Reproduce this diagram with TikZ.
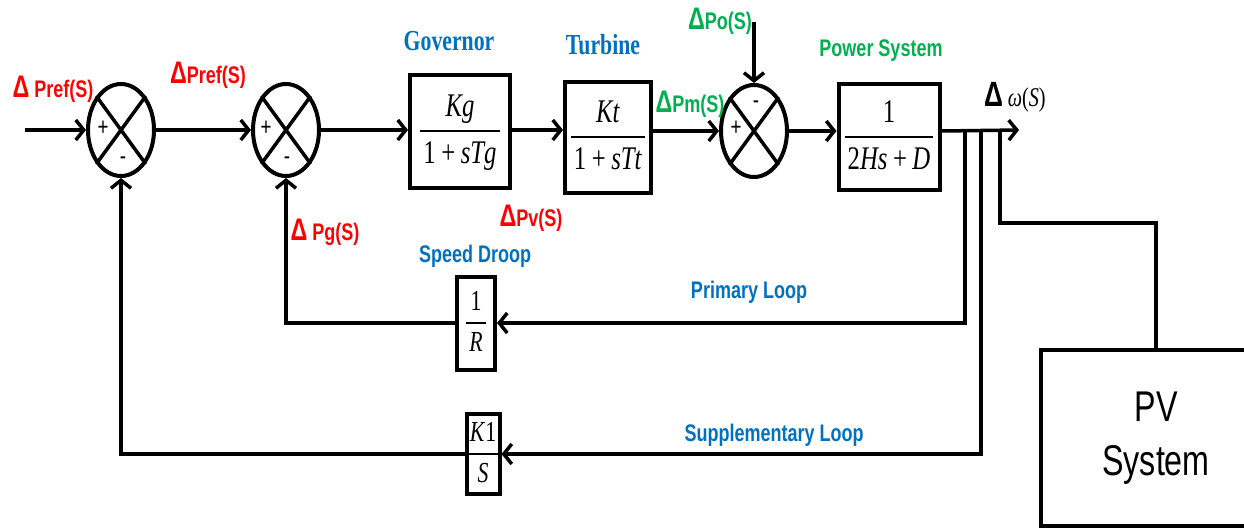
\documentclass[tikz,border=0pt]{standalone}
\usepackage{graphicx}
\usepackage{fontspec}
\setmainfont{Liberation Serif}[FakeStretch=0.75]
\setsansfont{Liberation Sans}[FakeStretch=0.75]
\usetikzlibrary{arrows.meta, shapes.geometric}
\definecolor{lblred}{RGB}{255,0,0}
\definecolor{lblgreen}{RGB}{0,176,80}
\definecolor{lblblue}{RGB}{0,112,192}
\setlength{\arrayrulewidth}{1.2pt}
\newcommand{\blkfrac}[2]{\renewcommand{\arraystretch}{1.2}%
  \begin{tabular}{@{\hspace{3pt}}c@{\hspace{3pt}}}#1\\\hline#2\end{tabular}}
\newcommand{\dlt}{{\sffamily\bfseries\scalebox{1.3}{Δ}}}

\begin{document}
\begin{tikzpicture}[x=1pt, y=-1pt,
  blk/.style={rectangle, draw, line width=4pt, inner sep=0pt,
    align=center, font=\fontsize{33}{38}\selectfont},
  smallblk/.style={blk, font=\fontsize{29}{33}\selectfont},
  sumj/.style={ellipse, draw, line width=4pt, minimum width=66pt,
    minimum height=92pt, inner sep=0pt},
  sgn/.style={font=\sffamily\fontsize{25}{25}\selectfont, inner sep=0pt},
  sig/.style={-{Straight Barb[length=8pt, width=20pt]}, line width=3.5pt},
  wire/.style={line width=3.5pt},
  redlbl/.style={text=lblred, font=\sffamily\bfseries\fontsize{24}{24}\selectfont, inner sep=0pt},
  greenlbl/.style={redlbl, text=lblgreen},
  bluehd/.style={text=lblblue, font=\bfseries\fontsize{29}{29}\selectfont, inner sep=0pt},
  bluelbl/.style={redlbl, text=lblblue}
]
  \useasboundingbox (0,0) rectangle (1244,531);

  % summing junctions
  \node[sumj] (s1) at (121,130) {};
  \node[sumj] (s2) at (286,130) {};
  \node[sumj] (s3) at (754,131) {};
  \foreach \s in {s1,s2,s3}{
    \draw[line width=3.5pt] (\s.north west) -- (\s.south east);
    \draw[line width=3.5pt] (\s.south west) -- (\s.north east);
  }
  \node[sgn] (s1p) at (103,128) {+};
  \node[sgn] (s1m) at (123,161) {-};
  \node[sgn] (s2p) at (266,128) {+};
  \node[sgn] (s2m) at (287,161) {-};
  \node[sgn] (s3m) at (756,105) {-};
  \node[sgn] (s3p) at (736,128) {+};

  % blocks
  \node[blk, minimum width=100pt, minimum height=113pt] (gov) at (460,131)
    {\blkfrac{\textit{Kg}}{1\,+\,\textit{sTg}}};
  \node[blk, minimum width=86pt, minimum height=111pt] (tur) at (608,137)
    {\blkfrac{\textit{Kt}}{1\,+\,\textit{sTt}}};
  \node[blk, minimum width=101pt, minimum height=106pt] (ps) at (889,137)
    {\blkfrac{1}{2\textit{Hs}\,+\,\textit{D}}};
  \node[smallblk, minimum width=38pt, minimum height=93pt] (sd) at (476,323)
    {\blkfrac{1}{\textit{R}}};
  \node[smallblk, minimum width=33pt, minimum height=79pt] (ki) at (483,454)
    {\blkfrac{\textit{K}1}{\textit{S}}};
  \node[rectangle, draw, line width=3.5pt, minimum width=230pt, minimum height=176pt,
    align=center, font=\sffamily\fontsize{43}{54}\selectfont] (pv) at (1156,438)
    {PV\\System};

  % forward path
  \coordinate (in) at (25,130);
  \coordinate (po) at (754,22);
  \coordinate (out) at (1019,130);
  \coordinate (b1) at (965,130);
  \coordinate (b2) at (981,130);
  \coordinate (b3) at (1000,130);
  \coordinate (pvk) at (1000,223);
  \draw[sig] (in) -- (s1.west);
  \draw[sig] (s1.east) -- (s2.west);
  \draw[sig] (s2.east) -- (s2.east -| gov.west);
  \draw[sig] (gov.east |- s2.east) -- (s2.east -| tur.west);
  \draw[sig] (tur.east |- s3.west) -- (s3.west);
  \draw[sig] (po) -- (s3.north);
  \draw[sig] (s3.east) -- (s3.east -| ps.west);
  \draw[sig] (ps.east |- s3.east) -- (out);

  % feedback loops
  \draw[sig] (b1) |- (sd.east);
  \draw[sig] (sd.west) -| (s2.south);
  \draw[sig] (b2) |- (ki.east);
  \draw[sig] (ki.west) -| (s1.south);
  \draw[wire] (b3) -- (pvk) -| (pv.north);

  % labels
  \node[redlbl] (pref1) at (53,89) {\dlt\ Pref(S)};
  \node[redlbl] (pref2) at (208,75) {\dlt Pref(S)};
  \node[redlbl] (pg) at (325,232) {\dlt\ Pg(S)};
  \node[redlbl] (pvs) at (531,218) {\dlt Pv(S)};
  \node[greenlbl] (pm) at (690,104) {\dlt Pm(S)};
  \node[greenlbl] (pol) at (720,21) {\dlt Po(S)};
  \node[greenlbl] (pslbl) at (881,51) {Power System};
  \node[bluehd] (govlbl) at (449,41) {Governor};
  \node[bluehd] (turlbl) at (603,45) {Turbine};
  \node[bluelbl] (sdlbl) at (475,256) {Speed Droop};
  \node[bluelbl] (prim) at (749,292) {Primary Loop};
  \node[bluelbl] (supp) at (774,435) {Supplementary Loop};
  \node[inner sep=0pt, font=\fontsize{27}{27}\selectfont] (wlbl) at (1015,97)
    {\dlt\,\textit{ω}(\textit{S})};
\end{tikzpicture}
\end{document}
